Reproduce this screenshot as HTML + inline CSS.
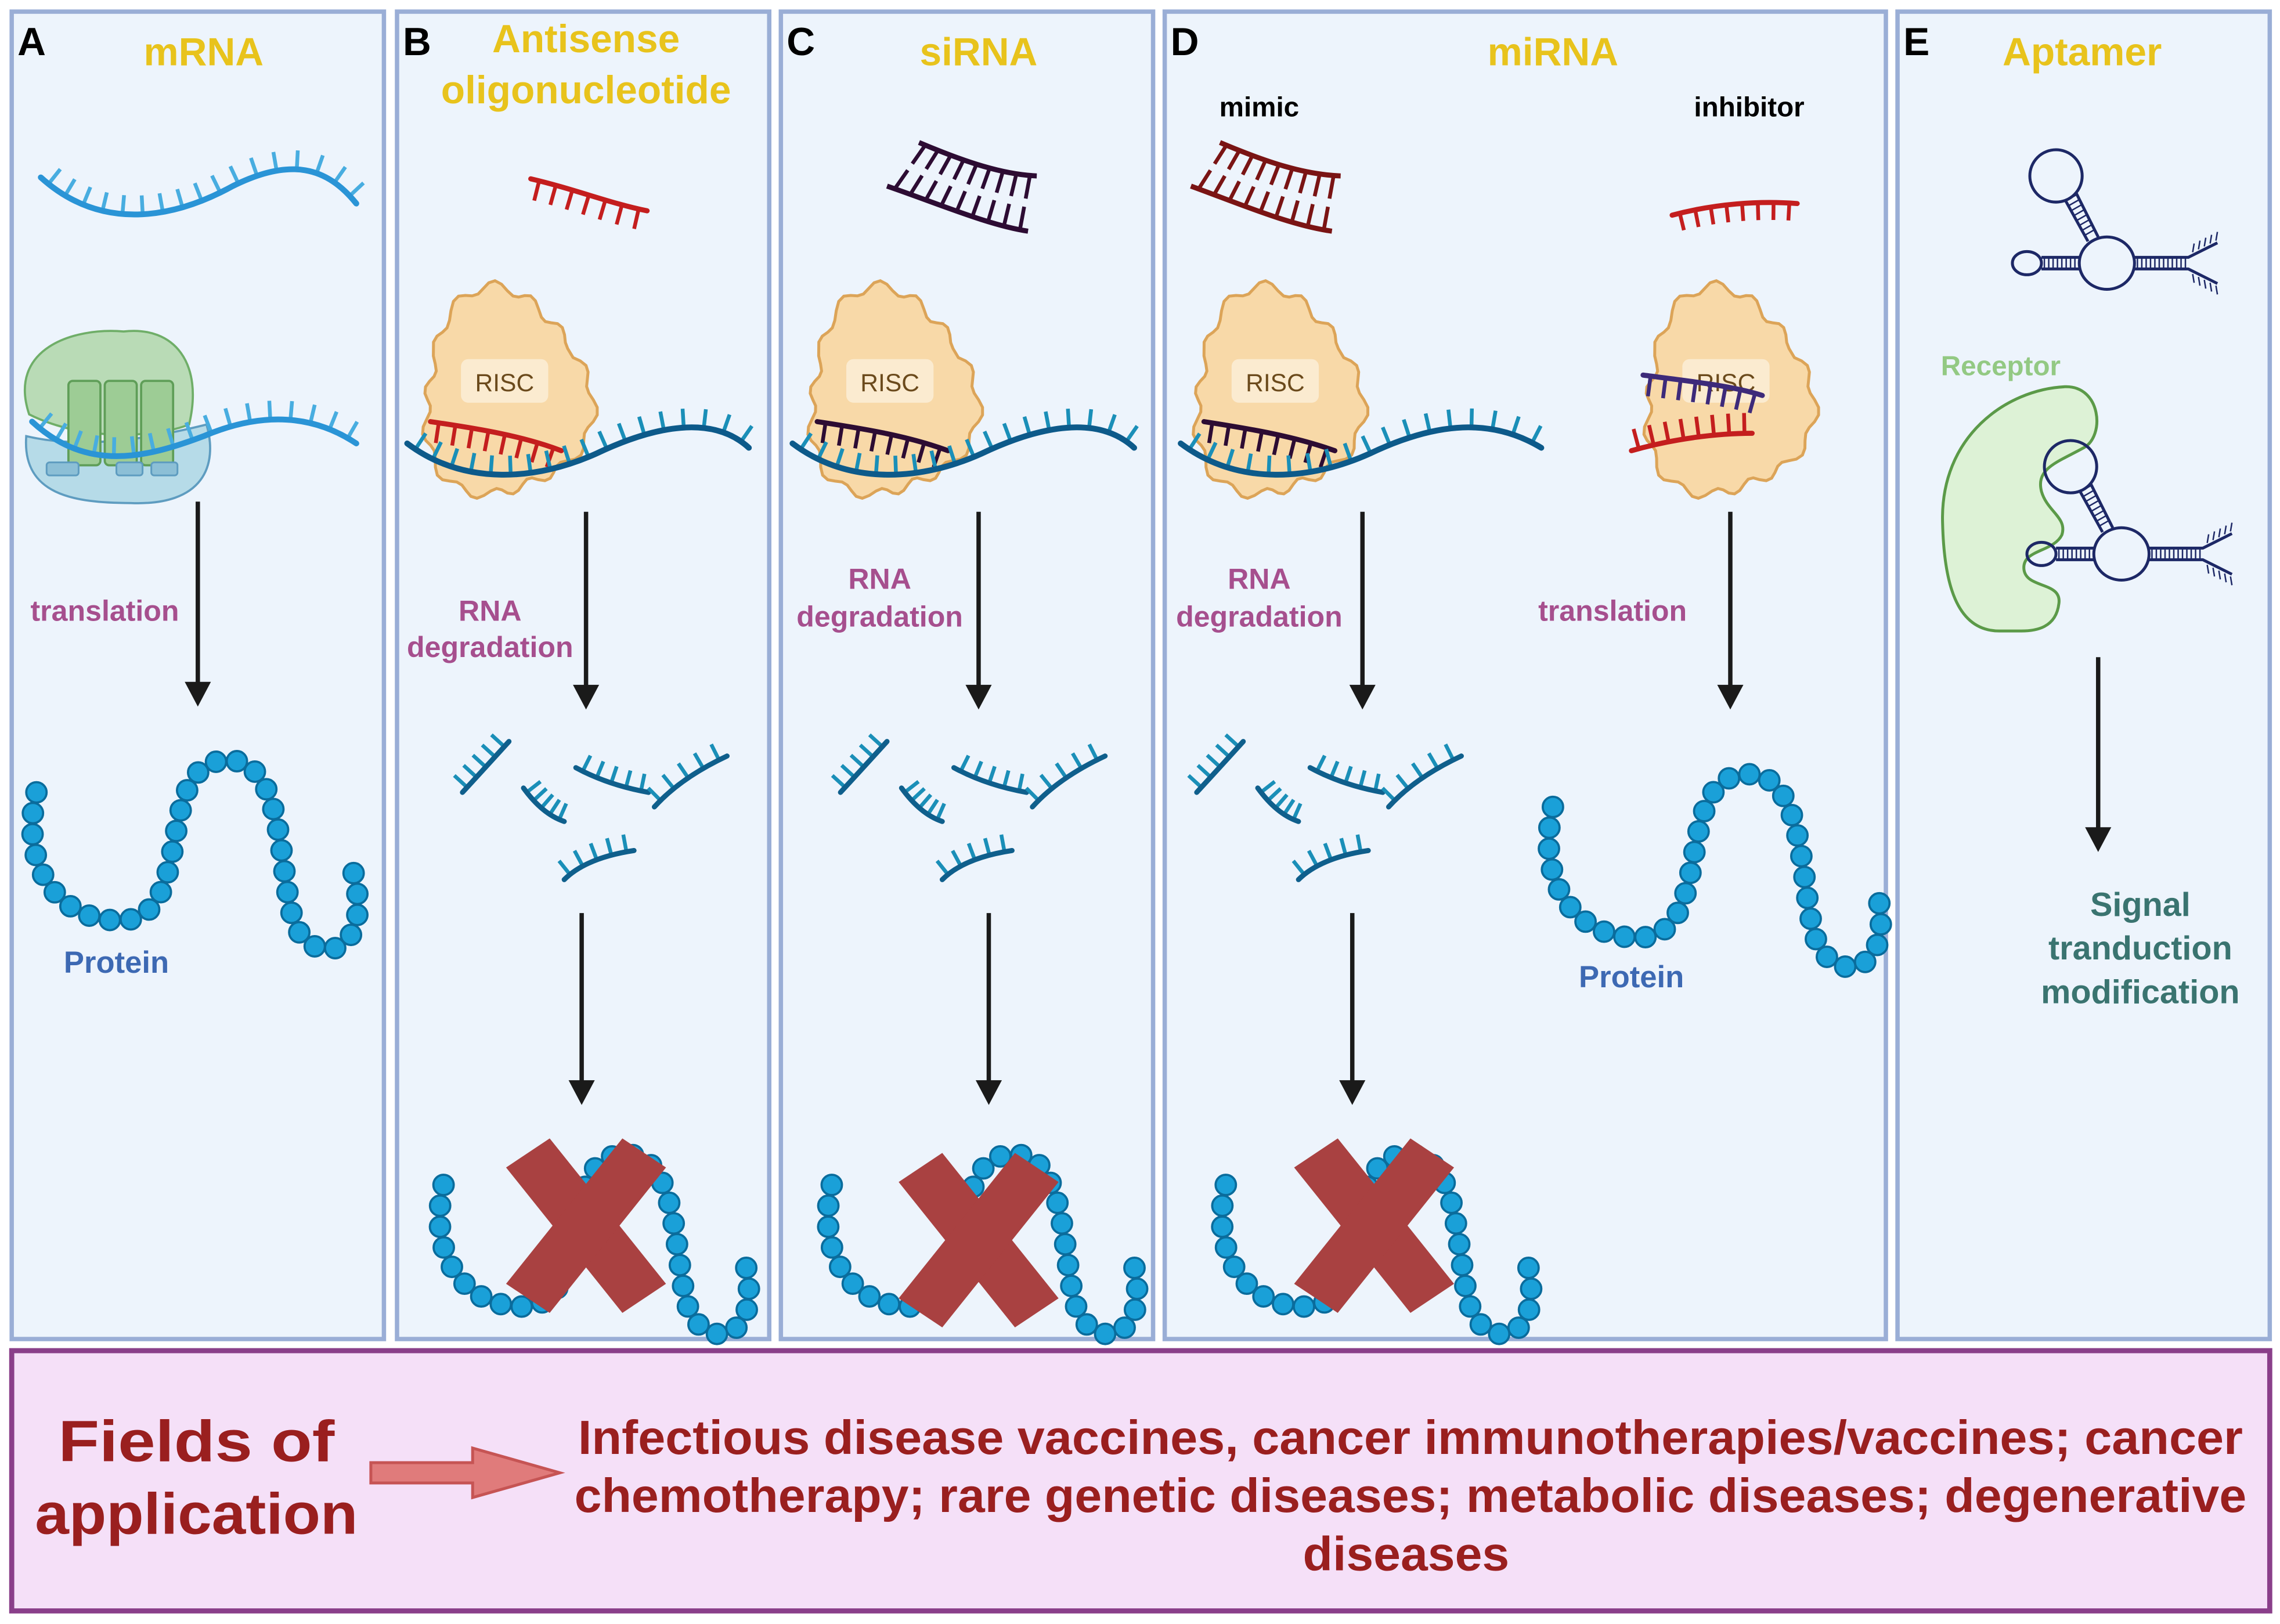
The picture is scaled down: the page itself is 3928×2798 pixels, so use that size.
<!DOCTYPE html>
<html><head><meta charset="utf-8">
<style>
html,body{margin:0;padding:0;background:#fff;}
svg{display:block;}
text{font-family:"Liberation Sans",sans-serif;font-weight:bold;}
</style></head>
<body>
<svg id="s" xmlns="http://www.w3.org/2000/svg" width="3928" height="2798" viewBox="0 0 1568 1117">
<rect width="1568" height="1117" fill="#fff"/>
<g fill="#edf4fc" stroke="#9aaed6" stroke-width="3">
<rect x="8" y="8" width="256" height="913"/>
<rect x="273" y="8" width="256" height="913"/>
<rect x="537" y="8" width="256" height="913"/>
<rect x="801" y="8" width="496" height="913"/>
<rect x="1305" y="8" width="256" height="913"/>
</g>
<rect x="8" y="929" width="1553" height="179" fill="#f5e0f8" stroke="#8a3f8a" stroke-width="3.5"/>

<g font-size="27" fill="#000">
<text x="12" y="38">A</text><text x="277" y="38">B</text><text x="541" y="38">C</text><text x="805" y="38">D</text><text x="1309" y="38">E</text>
</g>
<g font-size="27" fill="#e8c31c" text-anchor="middle">
<text x="140" y="45">mRNA</text>
<text x="403" y="36">Antisense</text>
<text x="403" y="71">oligonucleotide</text>
<text x="673" y="45">siRNA</text>
<text x="1068" y="45">miRNA</text>
<text x="1432" y="45">Aptamer</text>
</g>
<g font-size="19" fill="#000" text-anchor="middle">
<text x="866" y="80">mimic</text><text x="1203" y="80">inhibitor</text>
</g>
<g font-size="20" fill="#a64f8e" text-anchor="middle">
<text x="72" y="427">translation</text>
<text x="337" y="427">RNA</text><text x="337" y="452">degradation</text>
<text x="605" y="405">RNA</text><text x="605" y="431">degradation</text>
<text x="866" y="405">RNA</text><text x="866" y="431">degradation</text>
<text x="1109" y="427">translation</text>
</g>
<g font-size="21" fill="#3d69b3" text-anchor="middle">
<text x="80" y="669">Protein</text><text x="1122" y="679">Protein</text>
</g>
<text x="1376" y="258" font-size="19" fill="#93c983" text-anchor="middle">Receptor</text>
<g font-size="23" fill="#3a7470" text-anchor="middle">
<text x="1472" y="630">Signal</text><text x="1472" y="660">tranduction</text><text x="1472" y="690">modification</text>
</g>

<g fill="#9a1f1f" text-anchor="middle">
<text x="135" y="1005" font-size="40" textLength="190" lengthAdjust="spacingAndGlyphs">Fields of</text>
<text x="135" y="1055" font-size="40" textLength="222" lengthAdjust="spacingAndGlyphs">application</text>
<text x="970" y="1000" font-size="33" textLength="1145" lengthAdjust="spacingAndGlyphs">Infectious disease vaccines, cancer immunotherapies/vaccines; cancer</text>
<text x="970" y="1040" font-size="33" textLength="1150" lengthAdjust="spacingAndGlyphs">chemotherapy; rare genetic diseases; metabolic diseases; degenerative</text>
<text x="967" y="1080" font-size="33" textLength="142" lengthAdjust="spacingAndGlyphs">diseases</text>
</g>
<path d="M255,1006 L325,1006 L325,996 L385,1013 L325,1030 L325,1020 L255,1020 Z" fill="#e07b7b" stroke="#c65454" stroke-width="2"/>

<!-- Receptor -->
<path d="M1336,360 C1334,300 1380,268 1420,266 C1445,265 1448,300 1433,308 C1415,318 1400,322 1404,338 C1408,352 1422,356 1418,368 C1412,380 1390,378 1392,392 C1394,405 1418,400 1416,415 C1414,432 1400,434 1390,434 L1375,434 C1345,434 1337,400 1336,360Z" fill="#ddf2d6" stroke="#5b9a48" stroke-width="2"/>
<g id="g"></g>
</svg>
<script>
var NS="http://www.w3.org/2000/svg",G=document.getElementById("g");
function el(t,a){var e=document.createElementNS(NS,t);for(var k in a)e.setAttribute(k,a[k]);G.appendChild(e);return e;}
function strand(d,col,tcol,n,len,side,w){
 var p=el("path",{d:d,fill:"none",stroke:col,"stroke-width":w||4,"stroke-linecap":"round"});
 var L=p.getTotalLength();
 for(var i=0;i<n;i++){var s=L*(i+0.5)/n;var a=p.getPointAtLength(Math.max(0,s-1)),b=p.getPointAtLength(Math.min(L,s+1));
  var dx=b.x-a.x,dy=b.y-a.y,m=Math.hypot(dx,dy)||1;var nx=-dy/m*side,ny=dx/m*side;var c=p.getPointAtLength(s);
  el("line",{x1:c.x,y1:c.y,x2:c.x+nx*len,y2:c.y+ny*len,stroke:tcol,"stroke-width":2.6});}
 G.appendChild(p);return p;}
function duplex(t,b,col,n){
 var p1=el("path",{d:t,fill:"none",stroke:col,"stroke-width":3.5}),p2=el("path",{d:b,fill:"none",stroke:col,"stroke-width":3.5});
 var L1=p1.getTotalLength(),L2=p2.getTotalLength();
 for(var i=0;i<n;i++){var f=(i+0.5)/n;var a=p1.getPointAtLength(L1*f),c=p2.getPointAtLength(L2*f);
  var mx=(a.x+c.x)/2,my=(a.y+c.y)/2;
  el("line",{x1:a.x,y1:a.y,x2:a.x+(mx-a.x)*0.85,y2:a.y+(my-a.y)*0.85,stroke:col,"stroke-width":2.6});
  el("line",{x1:c.x,y1:c.y,x2:c.x+(mx-c.x)*0.85,y2:c.y+(my-c.y)*0.85,stroke:col,"stroke-width":2.6});}}
function beads(d){var p=el("path",{d:d,fill:"none",stroke:"none"});var L=p.getTotalLength();
 for(var s=0;s<=L;s+=14.5){var c=p.getPointAtLength(s);el("circle",{cx:c.x,cy:c.y,r:7,fill:"#1aa0d8",stroke:"#0a6c9c","stroke-width":1.5});}}
function arrow(x,y1,y2){el("line",{x1:x,y1:y1,x2:x,y2:y2-14,stroke:"#1a1a1a","stroke-width":3});
 el("path",{d:"M"+(x-9)+","+(y2-17)+" L"+(x+9)+","+(y2-17)+" L"+x+","+y2+" Z",fill:"#1a1a1a"});}
function risc(cx,cy){var d="";for(var i=0;i<=90;i++){var a=i/90*2*Math.PI;var r=60+3*Math.sin(a*14)+5*Math.sin(a*3+1);
 var rx=r*0.95,ry=r*1.1;if(Math.sin(a)<-0.5)ry*=1.12;var x=cx+rx*Math.cos(a),y=cy+ry*Math.sin(a);d+=(i?"L":"M")+x.toFixed(1)+","+y.toFixed(1);}
 el("path",{d:d+"Z",fill:"#f8d9a8",stroke:"#dca458","stroke-width":2});
 el("rect",{x:cx-30,y:cy-28,width:60,height:30,rx:5,fill:"#fbecd4",opacity:0.9});
 var t=el("text",{x:cx,y:cy-6,"font-size":17,fill:"#6b4a1c","text-anchor":"middle"});t.style.fontWeight="normal";t.textContent="RISC";}
function frags(ox,oy){var F=[[[0,35],[12,22],[32,0]],[[42,32],[55,50],[70,55]],[[78,18],[100,30],[128,35]],[[132,45],[150,25],[182,10]],[[70,95],[85,80],[118,75]]];
 F.forEach(function(f){var d="M"+(ox+f[0][0])+","+(oy+f[0][1])+" Q"+(ox+f[1][0])+","+(oy+f[1][1])+" "+(ox+f[2][0])+","+(oy+f[2][1]);
  strand(d,"#0f5f8c","#1a8fb8",5,12,-1,3.5);});}
function protein(ox,oy,s){s=s||1;function P(x,y){return (ox+x*s).toFixed(1)+","+(oy+y*s).toFixed(1);}
 beads("M"+P(0,0)+" C"+P(-12,50)+" "+P(15,90)+" "+P(60,88)+" C"+P(110,85)+" "+P(80,-20)+" "+P(130,-22)+" C"+P(175,-25)+" "+P(165,70)+" "+P(180,95)+" C"+P(195,120)+" "+P(232,110)+" "+P(218,55));}
function xmark(cx,cy){el("path",{d:"M"+(cx-55)+","+(cy-40)+" L"+(cx-25)+","+(cy-60)+" L"+(cx+55)+","+(cy+40)+" L"+(cx+25)+","+(cy+60)+"Z",fill:"#a94141"});
 el("path",{d:"M"+(cx+55)+","+(cy-40)+" L"+(cx+25)+","+(cy-60)+" L"+(cx-55)+","+(cy+40)+" L"+(cx-25)+","+(cy+60)+"Z",fill:"#a94141"});}

/* Panel A */
el("path",{d:"M20,285 C5,240 50,225 85,228 C120,224 140,250 130,292 C110,300 60,305 20,285Z",fill:"#b9dbb6",stroke:"#6fae68","stroke-width":1.5});
el("path",{d:"M18,300 C60,310 110,300 142,292 C150,320 140,348 90,346 C50,346 15,340 18,300Z",fill:"#b6dbe8",stroke:"#5e9cc0","stroke-width":1.5});
[[47,262],[72,262],[97,262]].forEach(function(r){el("rect",{x:r[0],y:r[1],width:22,height:58,rx:3,fill:"#9dcc95",stroke:"#5f9e58","stroke-width":1.5});});
[[32,318,22],[80,318,18],[104,318,18]].forEach(function(r){el("rect",{x:r[0],y:r[1],width:r[2],height:9,rx:2,fill:"#8cbfd6",stroke:"#5e9cc0","stroke-width":1.2});});
strand("M28,122 C70,160 120,150 160,128 C200,108 225,115 245,140","#2a94d6","#48ade0",17,13,-1,4);
strand("M22,290 C60,325 100,315 140,300 C180,283 215,285 245,305","#2a94d6","#48ade0",17,13,-1,4);
arrow(136,345,486);
protein(25,545,1);

/* Panel B */
strand("M365,123 C395,130 420,140 445,145","#c41e1e","#c41e1e",7,14,1,3.5);
risc(347,275);
strand("M296,290 C330,295 360,300 386,310","#c41e1e","#c41e1e",8,14,1,3.5);
strand("M280,305 C320,335 370,330 410,312 C450,293 490,285 515,308","#0d5a8a","#1a8fb8",18,13,-1,4);
arrow(403,352,488);
frags(318,510);
arrow(400,628,760);
protein(305,815,0.95);xmark(403,843);

/* Panel C */
duplex("M632,98 C665,112 690,120 713,121","M610,128 C645,140 680,155 707,159","#2d0c33",9);
risc(612,275);
strand("M562,290 C595,295 625,300 652,310","#2d0c33","#2d0c33",8,14,1,3.5);
strand("M545,305 C585,335 635,330 675,312 C715,293 755,285 780,308","#0d5a8a","#1a8fb8",18,13,-1,4);
arrow(673,352,488);
frags(578,510);
arrow(680,628,760);
protein(572,815,0.95);xmark(673,853);

/* Panel D */
duplex("M839,98 C872,112 897,120 922,121","M819,128 C852,140 887,155 916,159","#7a1414",9);
strand("M1150,148 C1180,140 1210,138 1236,140","#c41e1e","#c41e1e",8,12,1,3.5);
risc(877,275);
strand("M828,290 C860,295 890,300 918,310","#2d0c33","#2d0c33",8,14,1,3.5);
strand("M812,305 C852,335 902,330 942,312 C982,293 1022,285 1060,308","#0d5a8a","#1a8fb8",18,13,-1,4);
risc(1187,275);
strand("M1130,258 C1160,262 1190,265 1212,272","#3d2a7a","#3d2a7a",8,14,1,3.5);
strand("M1122,310 C1150,302 1180,298 1205,298","#c41e1e","#c41e1e",8,14,-1,3.5);
arrow(937,352,488);
frags(823,510);
arrow(930,628,760);
protein(843,815,0.95);xmark(945,843);
arrow(1190,352,488);
protein(1068,555,1.02);

/* Panel E aptamers */
function apt(ox,oy){var c="#1d2866";
 el("ellipse",{cx:ox+1414,cy:oy+121,rx:18,ry:18,fill:"none",stroke:c,"stroke-width":2});
 el("ellipse",{cx:ox+1449,cy:oy+181,rx:19,ry:18,fill:"none",stroke:c,"stroke-width":2});
 el("ellipse",{cx:ox+1394,cy:oy+181,rx:10,ry:8,fill:"none",stroke:c,"stroke-width":2});
 el("path",{d:"M"+(ox+1404)+","+(oy+177)+" H"+(ox+1431)+" M"+(ox+1404)+","+(oy+185)+" H"+(ox+1431)+" M"+(ox+1467)+","+(oy+177)+" H"+(ox+1505)+" L"+(ox+1525)+","+(oy+167)+" M"+(ox+1467)+","+(oy+185)+" H"+(ox+1505)+" L"+(ox+1525)+","+(oy+195)+" M"+(ox+1420)+","+(oy+137)+" L"+(ox+1436)+","+(oy+166)+" M"+(ox+1428)+","+(oy+133)+" L"+(ox+1443)+","+(oy+163),fill:"none",stroke:c,"stroke-width":2});
 for(var x=1406;x<1430;x+=3)el("line",{x1:ox+x,y1:oy+177,x2:ox+x,y2:oy+185,stroke:c,"stroke-width":1});
 for(var x=1470;x<1504;x+=3)el("line",{x1:ox+x,y1:oy+177,x2:ox+x,y2:oy+185,stroke:c,"stroke-width":1});
 for(var i=0;i<8;i++){var t=i/8;el("line",{x1:ox+1421+15*t,y1:oy+138+27*t,x2:ox+1428+15*t,y2:oy+134+27*t,stroke:c,"stroke-width":1});}
 for(var i=0;i<5;i++){var x=1508+i*4;el("line",{x1:ox+x,y1:oy+175-(x-1505)/2,x2:ox+x+1,y2:oy+169-(x-1505)/2,stroke:c,"stroke-width":1});el("line",{x1:ox+x,y1:oy+187+(x-1505)/2,x2:ox+x+1,y2:oy+193+(x-1505)/2,stroke:c,"stroke-width":1});}
}
apt(0,0);apt(10,200);
arrow(1443,452,586);
</script>
</body></html>
